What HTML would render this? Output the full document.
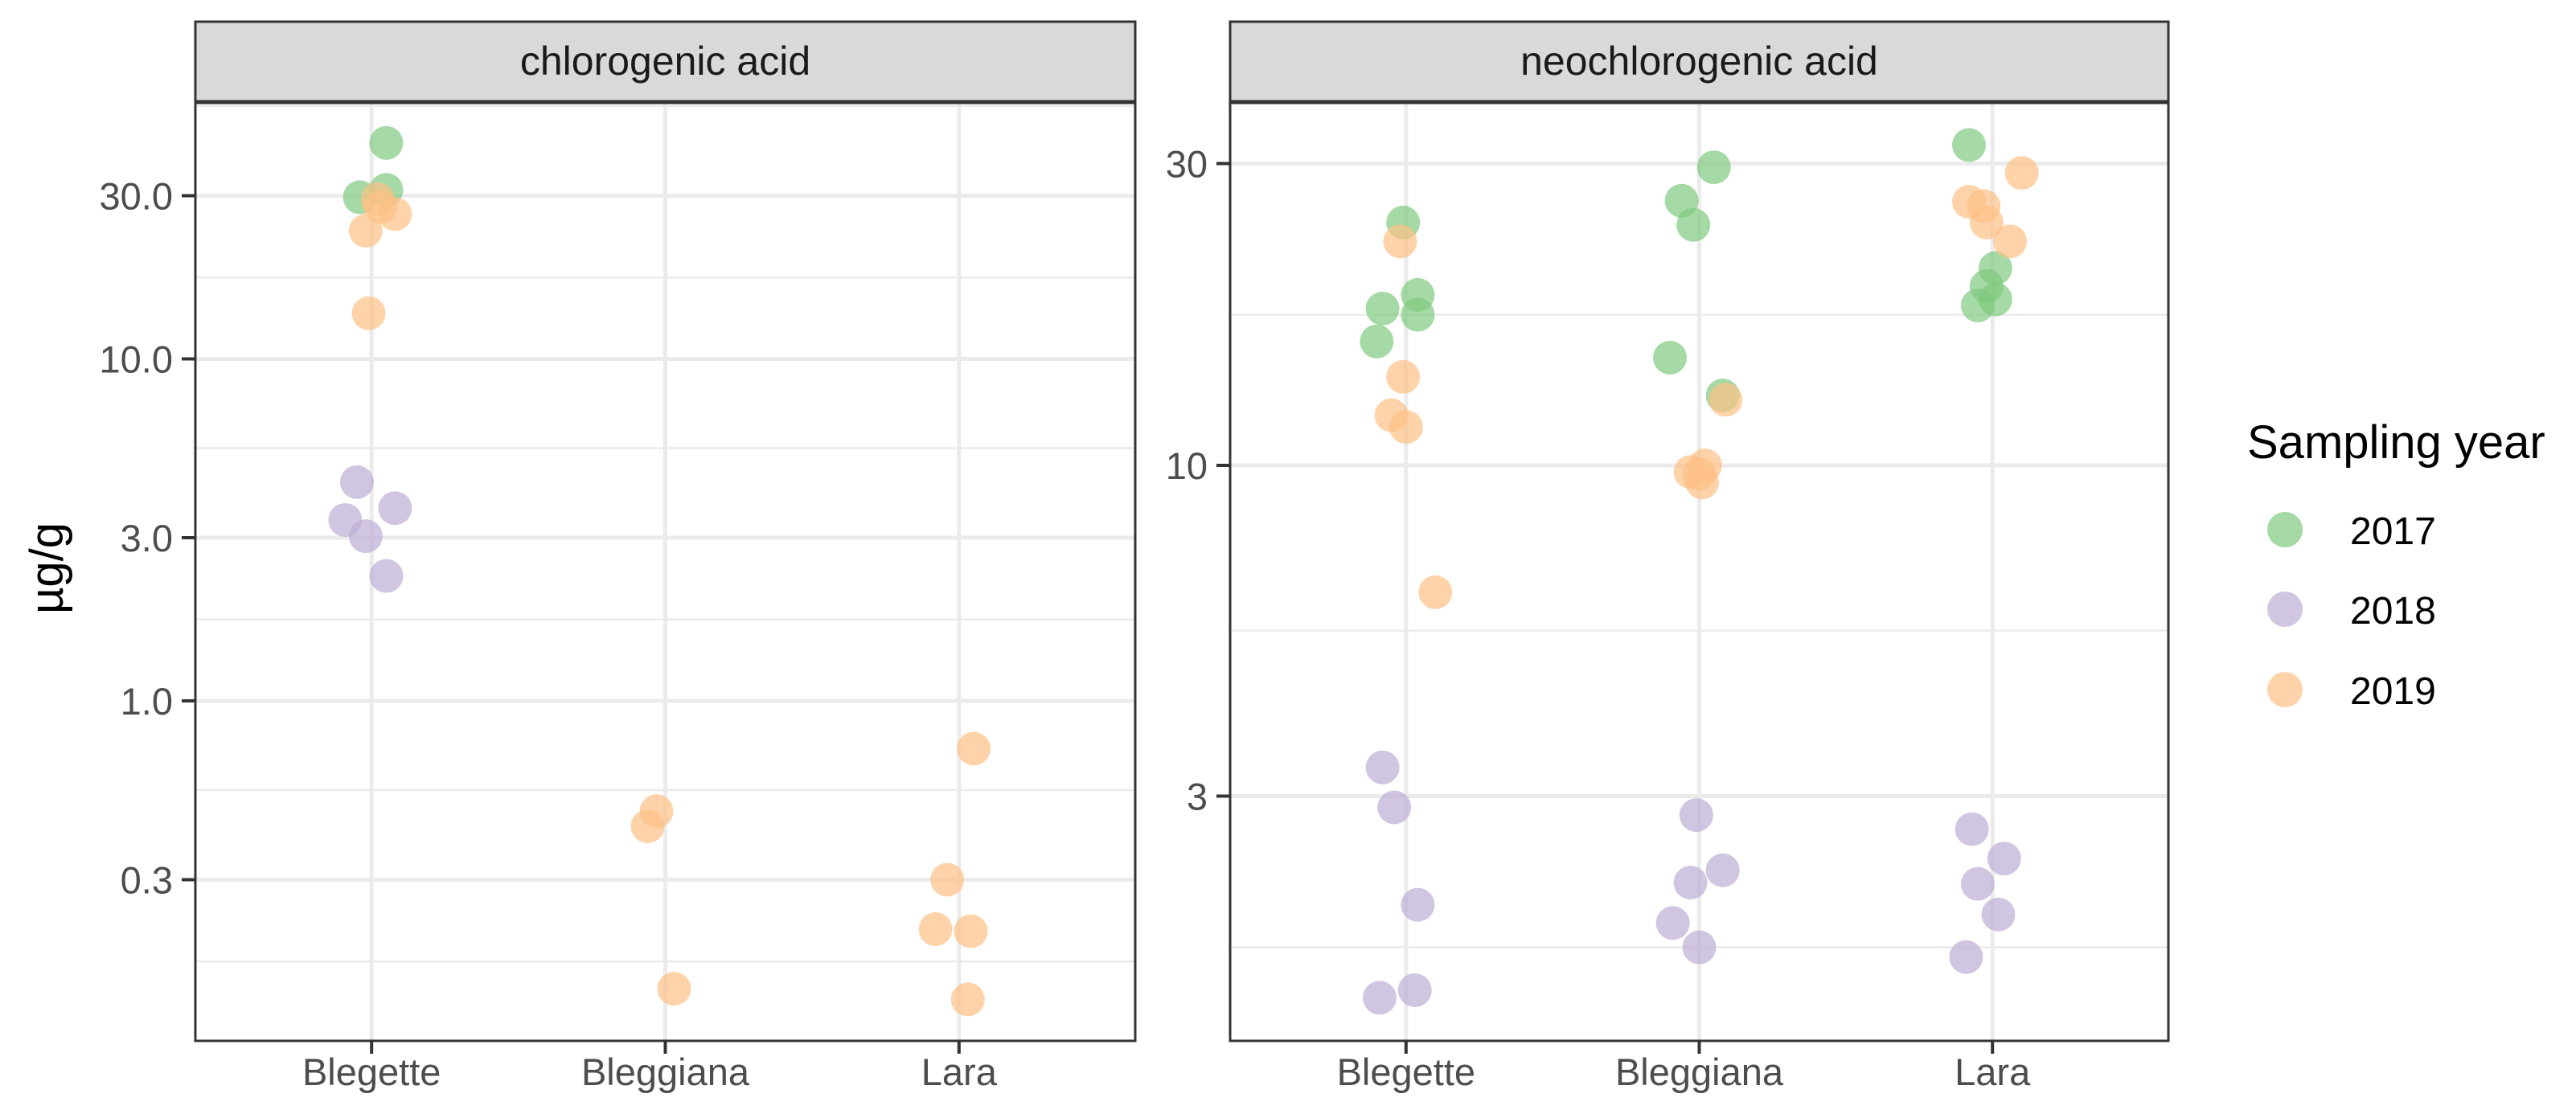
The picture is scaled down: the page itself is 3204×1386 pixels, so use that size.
<!DOCTYPE html>
<html><head><meta charset="utf-8"><style>
html,body{margin:0;padding:0;background:#fff;}
svg{display:block;font-family:"Liberation Sans",Arial,sans-serif;}
</style></head><body>
<svg id="chart" width="3204" height="1386" viewBox="0 0 3204 1386" xmlns="http://www.w3.org/2000/svg">
<text transform="translate(78,707) rotate(-90)" text-anchor="middle" font-size="58" fill="#000">µg/g</text>
<g>
<text x="2795" y="570" font-size="58" fill="#000">Sampling year</text>
</g>
</svg>
<script>
const categories = ["Blegette","Bleggiana","Lara"];
const years = ["2017","2018","2019"];
const colors = {"2017":"#7fc97f","2018":"#beaed4","2019":"#fdc086"};
const leftTicks = [0.3,1,3,10,30];
const leftTickLabels = ["0.3","1.0","3.0","10.0","30.0"];
const leftMinor = [0.173,0.548,1.73,5.48,17.3,54.8];
const rightTicks = [3,10,30];
const rightTickLabels = ["3","10","30"];
const rightMinor = [1.73,5.48,17.3];
// chlorogenic acid: [category index, jitter, value]
const chloro2017 = [[0,0.05,42.8],[0,-0.04,29.7],[0,0.05,31.2]];
const chloro2018 = [[0,-0.05,4.36],[0,0.08,3.66],[0,-0.09,3.38],[0,-0.02,3.03],[0,0.05,2.32]];
const chloro2019 = [[0,0.02,29.3],[0,0.03,27.8],[0,-0.02,23.7],[0,0.08,26.5],[0,-0.01,13.6],
  [1,-0.03,0.476],[1,-0.06,0.43],[1,0.03,0.144],
  [2,0.05,0.725],[2,-0.04,0.30],[2,-0.08,0.215],[2,0.04,0.212],[2,0.03,0.134]];
// neochlorogenic acid
const neo2017 = [[0,-0.01,24.2],[0,0.04,18.6],[0,-0.08,17.7],[0,0.04,17.3],[0,-0.10,15.7],
  [1,0.05,29.6],[1,-0.06,26.2],[1,-0.02,24.0],[1,-0.10,14.8],[1,0.08,12.9],
  [2,-0.08,32.1],[2,0.01,20.5],[2,-0.02,19.2],[2,0.01,18.3],[2,-0.05,17.9]];
const neo2018 = [[0,-0.08,3.33],[0,-0.04,2.88],[0,0.04,2.02],[0,0.03,1.48],[0,-0.09,1.44],
  [1,-0.01,2.80],[1,0.08,2.29],[1,-0.03,2.19],[1,-0.09,1.89],[1,0,1.73],
  [2,-0.07,2.66],[2,0.04,2.39],[2,-0.05,2.18],[2,0.02,1.95],[2,-0.09,1.67]];
const neo2019 = [[0,-0.02,22.6],[0,-0.01,13.8],[0,-0.05,12.0],[0,0,11.5],[0,0.10,6.3],
  [1,0.09,12.7],[1,0.02,10.0],[1,-0.03,9.76],[1,0.01,9.4],[1,0,9.7],
  [2,0.10,29.0],[2,-0.08,26.1],[2,-0.03,25.7],[2,-0.02,24.2],[2,0.06,22.6]];

const NS="http://www.w3.org/2000/svg";
const svg=document.getElementById('chart');
function mk(tag,attrs,parent){const e=document.createElementNS(NS,tag);for(const k in attrs)e.setAttribute(k,attrs[k]);(parent||svg).appendChild(e);return e;}

const panels=[
 {name:"chlorogenic-acid",title:"chlorogenic acid",x0:243,x1:1412,y0:127,y1:1295,refY:446.5,dec:425.5,
  ticks:leftTicks,labels:leftTickLabels,minor:leftMinor,series:{"2017":chloro2017,"2018":chloro2018,"2019":chloro2019}},
 {name:"neochlorogenic-acid",title:"neochlorogenic acid",x0:1530,x1:2697,y0:127,y1:1295,refY:579,dec:787,
  ticks:rightTicks,labels:rightTickLabels,minor:rightMinor,series:{"2017":neo2017,"2018":neo2018,"2019":neo2019}}
];
panels.forEach(p=>{
  const g=mk('g',{});
  
  
  const unit=(p.x1-p.x0)/3.2;
  const xs=(c,j)=>p.x0+(c+1+j-0.4)*unit;
  const ys=v=>p.refY-p.dec*(Math.log10(v)-1);
  const st=mk('rect',{x:p.x0,y:27,width:p.x1-p.x0,height:100,fill:'#d9d9d9',stroke:'#333','stroke-width':3},g);
  
  
  const stt=mk('text',{x:(p.x0+p.x1)/2,y:93,'text-anchor':'middle','font-size':50,fill:'#1a1a1a'},g);
  stt.textContent=p.title;
  
  
  p.minor.forEach(v=>{const y=ys(v);if(y>p.y0&&y<p.y1){const l=mk('line',{x1:p.x0,x2:p.x1,y1:y,y2:y,stroke:'#ebebeb','stroke-width':2.5},g);
    
    }});
  p.ticks.forEach(v=>{const y=ys(v);const l=mk('line',{x1:p.x0,x2:p.x1,y1:y,y2:y,stroke:'#ebebeb','stroke-width':5},g);
    
    });
  categories.forEach((c,i)=>{const x=xs(i,0);const l=mk('line',{x1:x,x2:x,y1:p.y0,y2:p.y1,stroke:'#ebebeb','stroke-width':5},g);
    
    });
  years.forEach(yr=>{p.series[yr].forEach(d=>{
    const c=mk('circle',{cx:xs(d[0],d[1]),cy:ys(d[2]),r:21,fill:colors[yr],'fill-opacity':0.7},g);
    
    
  });});
  const b=mk('rect',{x:p.x0,y:p.y0,width:p.x1-p.x0,height:p.y1-p.y0,fill:'none',stroke:'#333','stroke-width':3},g);
  
  
  mk('line',{x1:p.x0,x2:p.x1,y1:127,y2:127,stroke:'#333','stroke-width':5},g);
  p.ticks.forEach((v,i)=>{const y=ys(v);
    mk('line',{x1:p.x0-17,x2:p.x0,y1:y,y2:y,stroke:'#333','stroke-width':4},g);
    const t=mk('text',{x:p.x0-28,y:y+17,'text-anchor':'end','font-size':47,fill:'#4d4d4d'},g);
    t.textContent=p.labels[i];
    
    });
  categories.forEach((c,i)=>{const x=xs(i,0);
    mk('line',{x1:x,x2:x,y1:p.y1,y2:p.y1+16,stroke:'#333','stroke-width':4},g);
    const t=mk('text',{x:x,y:1350,'text-anchor':'middle','font-size':47,fill:'#4d4d4d'},g);
    t.textContent=c;
    
    });
});
const legendY=[659,758,858];
years.forEach((yr,i)=>{
  const c=mk('circle',{cx:2842,cy:legendY[i],r:22,fill:colors[yr],'fill-opacity':0.7});
  
  
  const t=mk('text',{x:2923,y:legendY[i]+18,'font-size':48,fill:'#000'});
  t.textContent=yr;
  
  
});
</script>
</body></html>
